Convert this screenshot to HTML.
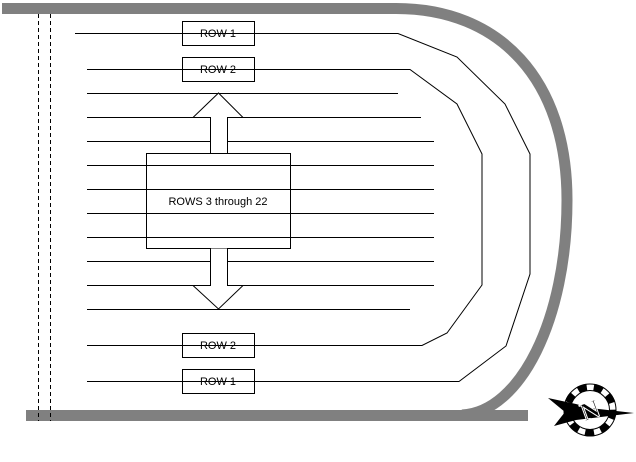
<!DOCTYPE html>
<html><head><style>body{margin:0;background:#fff}svg{display:block}</style></head><body>
<svg width="636" height="462" viewBox="0 0 636 462" xmlns="http://www.w3.org/2000/svg" font-family="Liberation Sans, sans-serif">
<rect x="2" y="3" width="394" height="11" fill="#808080"/>
<path d="M395 8.5 C500 8 567 80 567 200 C567 320 520 412 462 415" fill="none" stroke="#808080" stroke-width="11"/>
<rect x="26" y="410" width="502" height="11" fill="#808080"/>
<g stroke="#000" stroke-width="1" stroke-dasharray="4,3">
<line x1="38.5" y1="14" x2="38.5" y2="421"/><line x1="50.5" y1="14" x2="50.5" y2="421"/>
</g>
<g stroke="#000" stroke-width="1" fill="none">
<polyline points="75,33.5 398,33.5 457,57 505,104 530,154 530,274 506,346 459,381.5 87,381.5"/>
<polyline points="87,69.5 410,69.5 457,104 482,154 482,285 447,333 422,345.5 87,345.5"/>
<line x1="87" y1="93.5" x2="398" y2="93.5"/>
<line x1="87" y1="117.5" x2="421" y2="117.5"/>
<line x1="87" y1="141.5" x2="434" y2="141.5"/>
<line x1="87" y1="165.5" x2="434" y2="165.5"/>
<line x1="87" y1="189.5" x2="434" y2="189.5"/>
<line x1="87" y1="213.5" x2="434" y2="213.5"/>
<line x1="87" y1="237.5" x2="434" y2="237.5"/>
<line x1="87" y1="261.5" x2="434" y2="261.5"/>
<line x1="87" y1="285.5" x2="434" y2="285.5"/>
<line x1="87" y1="309.5" x2="410" y2="309.5"/>
<rect x="146.5" y="153.5" width="144" height="95"/>
<rect x="182.5" y="21.5" width="72" height="24"/>
<rect x="182.5" y="57.5" width="72" height="24"/>
<rect x="182.5" y="333.5" width="72" height="24"/>
<rect x="182.5" y="369.5" width="72" height="24"/>
<path d="M210.5 153 V117.5 H193 L218.5 93 L243 117.5 H227.5 V153" fill="#fff"/>
<path d="M210.5 248.5 V285.5 H193 L218.5 309 L243 285.5 H227.5 V248.5" fill="#fff"/>
</g>
<g font-size="11" text-anchor="middle" fill="#000">
<text x="218" y="37">ROW 1</text>
<text x="218" y="73">ROW 2</text>
<text x="218" y="349">ROW 2</text>
<text x="218" y="385">ROW 1</text>
<text x="218" y="205">ROWS 3 through 22</text>
</g>
<g transform="translate(590,410)">
<circle r="23" fill="none" stroke="#000" stroke-width="7" stroke-dasharray="9,7"/>
<circle r="26" fill="none" stroke="#000" stroke-width="1"/>
<circle r="19.5" fill="none" stroke="#000" stroke-width="1"/>
<polygon points="-42,-12 -14,-6 0,-2 44,3 -14,10 -36,16 -25,2" fill="#000"/>
<text x="0" y="9" font-family="Liberation Serif, serif" font-size="26" font-weight="bold" text-anchor="middle" transform="rotate(-20)" fill="#000" stroke="#fff" stroke-width="1">N</text>
</g>
</svg>
</body></html>
